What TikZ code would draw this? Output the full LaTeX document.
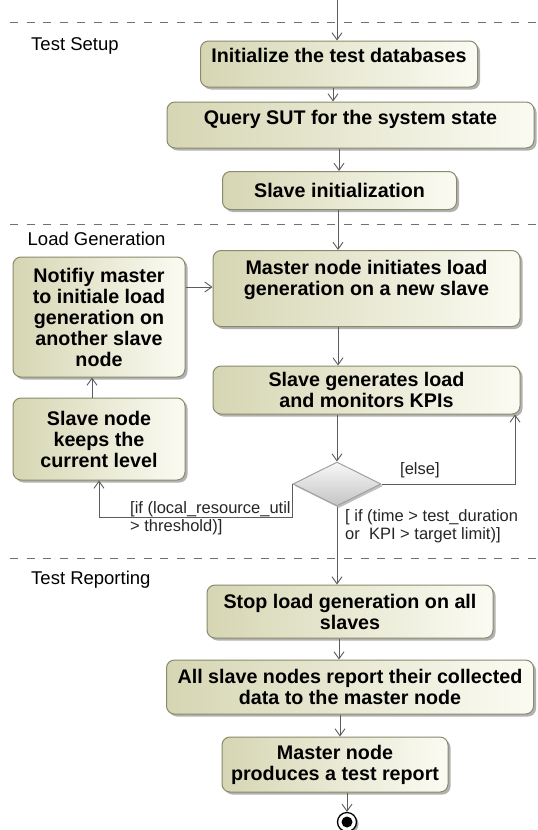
\documentclass[tikz,border=0pt]{standalone}
\usepackage{fontspec}
\setmainfont{Liberation Sans}
\usetikzlibrary{arrows.meta,shapes.geometric,shadows}
\definecolor{boxdark}{HTML}{D6D6B4}
\definecolor{boxlight}{HTML}{FBFBF3}
\definecolor{boxline}{HTML}{8A8A6C}
\definecolor{flowcol}{HTML}{5C5C5C}
\definecolor{dashcol}{HTML}{707070}
\definecolor{dtop}{HTML}{F8F8F8}
\definecolor{dbot}{HTML}{C4C4C4}
\definecolor{dline}{HTML}{A0A0A0}
\begin{document}
\begin{tikzpicture}[x=1pt,y=-1pt,
  act/.style={draw=boxline,line width=1pt,rounded corners=8pt,left color=boxdark,right color=boxlight,
    font=\fontsize{19.7}{21}\selectfont\bfseries,align=center,inner sep=0pt,
    drop shadow={shadow xshift=2.5pt,shadow yshift=-2.5pt,opacity=0.3,fill=black}},
  lbl/.style={font=\fontsize{16.5}{18}\selectfont,align=left,inner sep=0pt,text=black!85,anchor=west},
  sect/.style={font=\fontsize{18.5}{20}\selectfont,inner sep=0pt,anchor=west},
  flowline/.style={draw=flowcol,line width=0.9pt},
  arr/.style={flowline,-{Straight Barb[length=7pt,width=10pt]}},
  lane/.style={draw=dashcol,line width=0.9pt,dash pattern=on 8pt off 8.7pt}
]
\fill[white] (0,0) rectangle (538,830);
\useasboundingbox (0,0) rectangle (538,830);

% swimlane separators
\draw[lane] (10,22) -- (538,22);
\draw[lane] (10,224) -- (538,224);
\draw[lane] (10,558) -- (538,558);

\node[sect] (s1) at (31,46) {Test Setup};
\node[sect] (s2) at (27.5,239) {Load Generation};
\node[sect] (s3) at (31,580) {Test Reporting};

% actions
\node[act,minimum width=277pt,minimum height=46pt,text height=21pt,text depth=25pt] (init) at (339,64) {Initialize the test databases};
\node[act,minimum width=367pt,minimum height=46pt,text height=22pt,text depth=24pt] (query) at (350.5,125) {Query SUT for the system state};
\node[act,minimum width=234pt,minimum height=38pt] (slinit) at (339.5,190.5) {Slave initialization};
\node[act,minimum width=307pt,minimum height=76pt] (master) at (366.5,288.5) {Master node initiates load\\generation on a new slave\\~};
\node[act,minimum width=307pt,minimum height=48pt] (slgen) at (366.5,390) {Slave generates load\\and monitors KPIs};
\node[act,minimum width=172pt,minimum height=120pt] (notify) at (99,317) {Notifiy master\\to initiale load\\generation on\\another slave\\node};
\node[act,minimum width=172pt,minimum height=82pt] (keeps) at (99,439) {Slave node\\keeps the\\current level};
\node[diamond,draw=dline,line width=1pt,top color=dtop,bottom color=dbot,minimum width=88pt,minimum height=44pt,inner sep=0pt,
  drop shadow={shadow xshift=2pt,shadow yshift=-2pt,opacity=0.25,fill=black}] (dec) at (337,484) {};
\node[act,minimum width=286pt,minimum height=53pt] (stop) at (350,611.5) {Stop load generation on all\\slaves};
\node[act,minimum width=367pt,minimum height=54pt] (allsl) at (350,687) {All slave nodes report their collected\\data to the master node};
\node[act,minimum width=226pt,minimum height=55pt] (prod) at (335,764.5) {Master node\\produces a test report};
\node[circle,draw=black,line width=1.3pt,fill=white,minimum size=19pt,inner sep=0pt,
  path picture={\fill[black] (path picture bounding box.center) circle (5.5pt);},
  drop shadow={shadow xshift=2pt,shadow yshift=-2pt,opacity=0.35,fill=black}] (final) at (347,822) {};

% helper coordinates
\coordinate (start) at (337,0);
\coordinate (x333) at (333,0);
\coordinate (x339) at (339,0);
\coordinate (x338) at (338,0);
\coordinate (x340) at (340,0);
\coordinate (x92) at (92,0);
\coordinate (xelse) at (515,0);
\coordinate (ynm) at (0,287);
\coordinate (ybend) at (0,517);

% connectors
\draw[arr] (start) -- (start |- init.north);
\draw[arr] (init.south -| x333) -- (query.north -| x333);
\draw[arr] (query.south -| x339) -- (slinit.north -| x339);
\draw[arr] (slinit.south -| x338) -- (master.north -| x338);
\draw[arr] (master.south -| x338) -- (slgen.north -| x338);
\draw[arr] (slgen.south -| dec.north) -- (dec.north);
\draw[arr] (notify.east |- ynm) -- (master.west |- ynm);
\draw[arr] (keeps.north -| x92) -- (notify.south -| x92);
\draw[arr] (dec.east) -- (xelse |- dec.east) -- (xelse |- slgen.south);
\draw[arr] (dec.west) -- (dec.west |- ybend) -| (keeps.south);
\draw[arr] (dec.south) -- (dec.south |- stop.north);
\draw[arr] (stop.south -| x339) -- (allsl.north -| x339);
\draw[arr] (allsl.south -| x340) -- (prod.north -| x340);
\draw[arr] (prod.south -| final) -- (final.north);

% guards
\node[lbl] (lelse) at (400,470) {[else]};
\node[lbl] (lloc) at (130,518.5) {[if (local\_resource\_util\\> threshold)]};
\node[lbl] (ltime) at (345,526.5) {[ if (time > test\_duration\\or~ KPI > target limit)]};
\end{tikzpicture}
\end{document}
